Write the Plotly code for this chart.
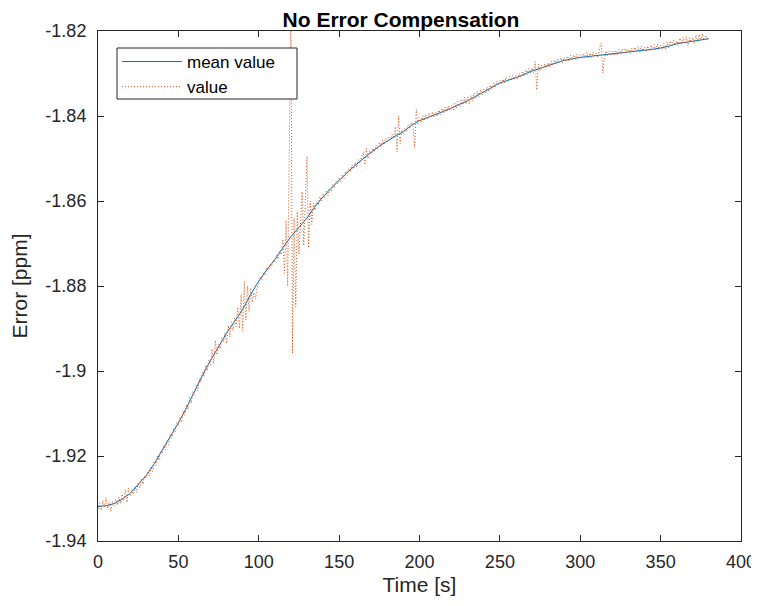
import plotly.graph_objects as go

# mean value, sampled every 5 s
mean_time = list(range(0, 381, 5))
mean_value = [
    -1.9319, -1.9317, -1.9312, -1.9302, -1.9288, -1.9268, -1.9246, -1.9218, -1.9187, -1.9155,
    -1.9122, -1.9087, -1.9048, -1.9010, -1.8975, -1.8943, -1.8911, -1.8883, -1.8855, -1.8820,
    -1.8788, -1.8762, -1.8738, -1.8710, -1.8684, -1.8662, -1.8640, -1.8613, -1.8590, -1.8570,
    -1.8551, -1.8533, -1.8516, -1.8500, -1.8485, -1.8471, -1.8458, -1.8447, -1.8437, -1.8422,
    -1.8411, -1.8404, -1.8397, -1.8389, -1.8381, -1.8373, -1.8364, -1.8354, -1.8343, -1.8332,
    -1.8322, -1.8316, -1.8310, -1.8302, -1.8294, -1.8288, -1.8281, -1.8275, -1.8269, -1.8265,
    -1.8262, -1.8260, -1.8258, -1.8256, -1.8254, -1.8252, -1.8250, -1.8247, -1.8245, -1.8243,
    -1.8240, -1.8236, -1.8230, -1.8227, -1.8224, -1.8221, -1.8218,
]

# raw value, sampled every 1 s
value_time = list(range(0, 381))
value = [
    -1.9324, -1.9310, -1.9328, -1.9305, -1.9320, -1.9298, -1.9323, -1.9309, -1.9330, -1.9306,
    -1.9318, -1.9302, -1.9316, -1.9297, -1.9312, -1.9290, -1.9305, -1.9280, -1.9309, -1.9276,
    -1.9294, -1.9279, -1.9290, -1.9272, -1.9285, -1.9263, -1.9275, -1.9255, -1.9266, -1.9247,
    -1.9252, -1.9236, -1.9247, -1.9225, -1.9236, -1.9212, -1.9222, -1.9200, -1.9210, -1.9189,
    -1.9194, -1.9175, -1.9186, -1.9162, -1.9173, -1.9148, -1.9158, -1.9134, -1.9143, -1.9121,
    -1.9129, -1.9108, -1.9121, -1.9093, -1.9104, -1.9079, -1.9090, -1.9062, -1.9076, -1.9049,
    -1.9055, -1.9034, -1.9047, -1.9018, -1.9027, -1.9003, -1.9014, -1.8986, -1.8999, -1.8974,
    -1.8986, -1.8948, -1.8982, -1.8929, -1.8962, -1.8938, -1.8948, -1.8922, -1.8932, -1.8910,
    -1.8935, -1.8893, -1.8920, -1.8886, -1.8905, -1.8875, -1.8895, -1.8850, -1.8900, -1.8820,
    -1.8905, -1.8790, -1.8880, -1.8800, -1.8860, -1.8805, -1.8838, -1.8815, -1.8830, -1.8804,
    -1.8795, -1.8778, -1.8787, -1.8768, -1.8775, -1.8757, -1.8764, -1.8748, -1.8753, -1.8738,
    -1.8744, -1.8728, -1.8737, -1.8718, -1.8726, -1.8690, -1.8770, -1.8645, -1.8800, -1.8508,
    -1.8150, -1.8958, -1.8640, -1.8849, -1.8625, -1.8725, -1.8660, -1.8578, -1.8705, -1.8620,
    -1.8496, -1.8710, -1.8600, -1.8655, -1.8605, -1.8622, -1.8603, -1.8610, -1.8590, -1.8600,
    -1.8584, -1.8594, -1.8577, -1.8588, -1.8570, -1.8578, -1.8561, -1.8570, -1.8553, -1.8560,
    -1.8545, -1.8555, -1.8538, -1.8548, -1.8530, -1.8540, -1.8524, -1.8532, -1.8515, -1.8525,
    -1.8510, -1.8521, -1.8503, -1.8512, -1.8494, -1.8485, -1.8515, -1.8476, -1.8500, -1.8482,
    -1.8490, -1.8476, -1.8484, -1.8469, -1.8477, -1.8462, -1.8472, -1.8456, -1.8466, -1.8452,
    -1.8462, -1.8450, -1.8456, -1.8442, -1.8452, -1.8425, -1.8484, -1.8400, -1.8465, -1.8432,
    -1.8442, -1.8428, -1.8437, -1.8421, -1.8430, -1.8415, -1.8424, -1.8475, -1.8384, -1.8418,
    -1.8404, -1.8415, -1.8400, -1.8411, -1.8396, -1.8408, -1.8393, -1.8404, -1.8390, -1.8402,
    -1.8391, -1.8401, -1.8386, -1.8397, -1.8382, -1.8393, -1.8379, -1.8390, -1.8376, -1.8387,
    -1.8375, -1.8386, -1.8370, -1.8381, -1.8366, -1.8378, -1.8360, -1.8374, -1.8356, -1.8372,
    -1.8355, -1.8372, -1.8352, -1.8365, -1.8346, -1.8359, -1.8342, -1.8354, -1.8338, -1.8350,
    -1.8337, -1.8347, -1.8332, -1.8342, -1.8327, -1.8337, -1.8322, -1.8332, -1.8318, -1.8328,
    -1.8316, -1.8326, -1.8313, -1.8322, -1.8309, -1.8319, -1.8307, -1.8316, -1.8304, -1.8314,
    -1.8304, -1.8314, -1.8300, -1.8310, -1.8295, -1.8306, -1.8291, -1.8302, -1.8288, -1.8299,
    -1.8287, -1.8298, -1.8272, -1.8339, -1.8278, -1.8293, -1.8280, -1.8289, -1.8277, -1.8286,
    -1.8275, -1.8285, -1.8271, -1.8281, -1.8268, -1.8278, -1.8265, -1.8276, -1.8263, -1.8274,
    -1.8262, -1.8273, -1.8259, -1.8270, -1.8257, -1.8268, -1.8256, -1.8267, -1.8255, -1.8266,
    -1.8256, -1.8266, -1.8253, -1.8264, -1.8251, -1.8263, -1.8252, -1.8262, -1.8250, -1.8261,
    -1.8252, -1.8262, -1.8240, -1.8229, -1.8299, -1.8265, -1.8247, -1.8259, -1.8248, -1.8258,
    -1.8248, -1.8258, -1.8245, -1.8256, -1.8243, -1.8255, -1.8242, -1.8254, -1.8241, -1.8252,
    -1.8243, -1.8253, -1.8240, -1.8251, -1.8238, -1.8250, -1.8237, -1.8249, -1.8236, -1.8247,
    -1.8238, -1.8249, -1.8235, -1.8247, -1.8233, -1.8245, -1.8232, -1.8244, -1.8231, -1.8243,
    -1.8233, -1.8244, -1.8229, -1.8242, -1.8226, -1.8239, -1.8223, -1.8237, -1.8221, -1.8234,
    -1.8223, -1.8234, -1.8217, -1.8232, -1.8215, -1.8230, -1.8213, -1.8236, -1.8216, -1.8227,
    -1.8216, -1.8228, -1.8209, -1.8225, -1.8208, -1.8223, -1.8206, -1.8222, -1.8210, -1.8220,
    -1.8216,
]

x_ticks = [0, 50, 100, 150, 200, 250, 300, 350, 400]
y_ticks = [-1.94, -1.92, -1.90, -1.88, -1.86, -1.84, -1.82]
y_tick_labels = ["-1.94", "-1.92", "-1.9", "-1.88", "-1.86", "-1.84", "-1.82"]

FONT = "Liberation Sans, Arial, Helvetica, sans-serif"
AXIS_COLOR = "#262626"

# The page body adds an 8 px offset; figure is sized so that it fills the window.
FIG_W, FIG_H = 751, 598
PLOT_W, PLOT_H = 643, 510

fig = go.Figure()
fig.add_trace(go.Scatter(
    x=mean_time, y=mean_value, mode="lines", name="mean value",
    line=dict(color="#0072BD", width=1),
))
fig.add_trace(go.Scatter(
    x=value_time, y=value, mode="lines", name="value",
    line=dict(color="#D95319", width=1, dash="1px,2px"),
))

axis_common = dict(
    showgrid=False, zeroline=False, showline=True, linecolor=AXIS_COLOR, linewidth=1,
    mirror="ticks", ticks="inside", ticklen=6, tickcolor=AXIS_COLOR, tickwidth=1,
    tickfont=dict(family=FONT, size=18, color=AXIS_COLOR), automargin=False,
)

# legend frame (opaque white box, as in the reference)
legend_box = dict(
    type="rect", xref="paper", yref="paper", layer="above",
    x0=19 / PLOT_W, x1=199 / PLOT_W, y0=1 - 68 / PLOT_H, y1=1 - 17 / PLOT_H,
    fillcolor="white", line=dict(color=AXIS_COLOR, width=1),
)

fig.update_layout(
    width=FIG_W, height=FIG_H,
    margin=dict(l=90, r=18, t=23, b=65, autoexpand=False),
    paper_bgcolor="white", plot_bgcolor="white",
    title=dict(text="<b>No Error Compensation</b>", x=393 / FIG_W, xanchor="center",
               y=1 - 12 / FIG_H, yanchor="middle",
               font=dict(family=FONT, size=21, color="black")),
    xaxis=dict(range=[0, 400], tickvals=x_ticks, ticklabelstandoff=4,
               title=dict(text="Time [s]", font=dict(family=FONT, size=21, color=AXIS_COLOR), standoff=6),
               **axis_common),
    yaxis=dict(range=[-1.94, -1.82], tickvals=y_ticks, ticktext=y_tick_labels, ticklabelstandoff=7,
               title=dict(text="Error [ppm]", font=dict(family=FONT, size=21, color=AXIS_COLOR), standoff=13),
               **axis_common),
    shapes=[legend_box],
    legend=dict(x=19 / PLOT_W, y=1 - 13 / PLOT_H, xanchor="left", yanchor="top",
                bgcolor="rgba(0,0,0,0)", borderwidth=0,
                font=dict(family=FONT, size=17, color="black"),
                itemwidth=60, tracegroupgap=0),
    showlegend=True,
)

fig.write_html("out.html")
